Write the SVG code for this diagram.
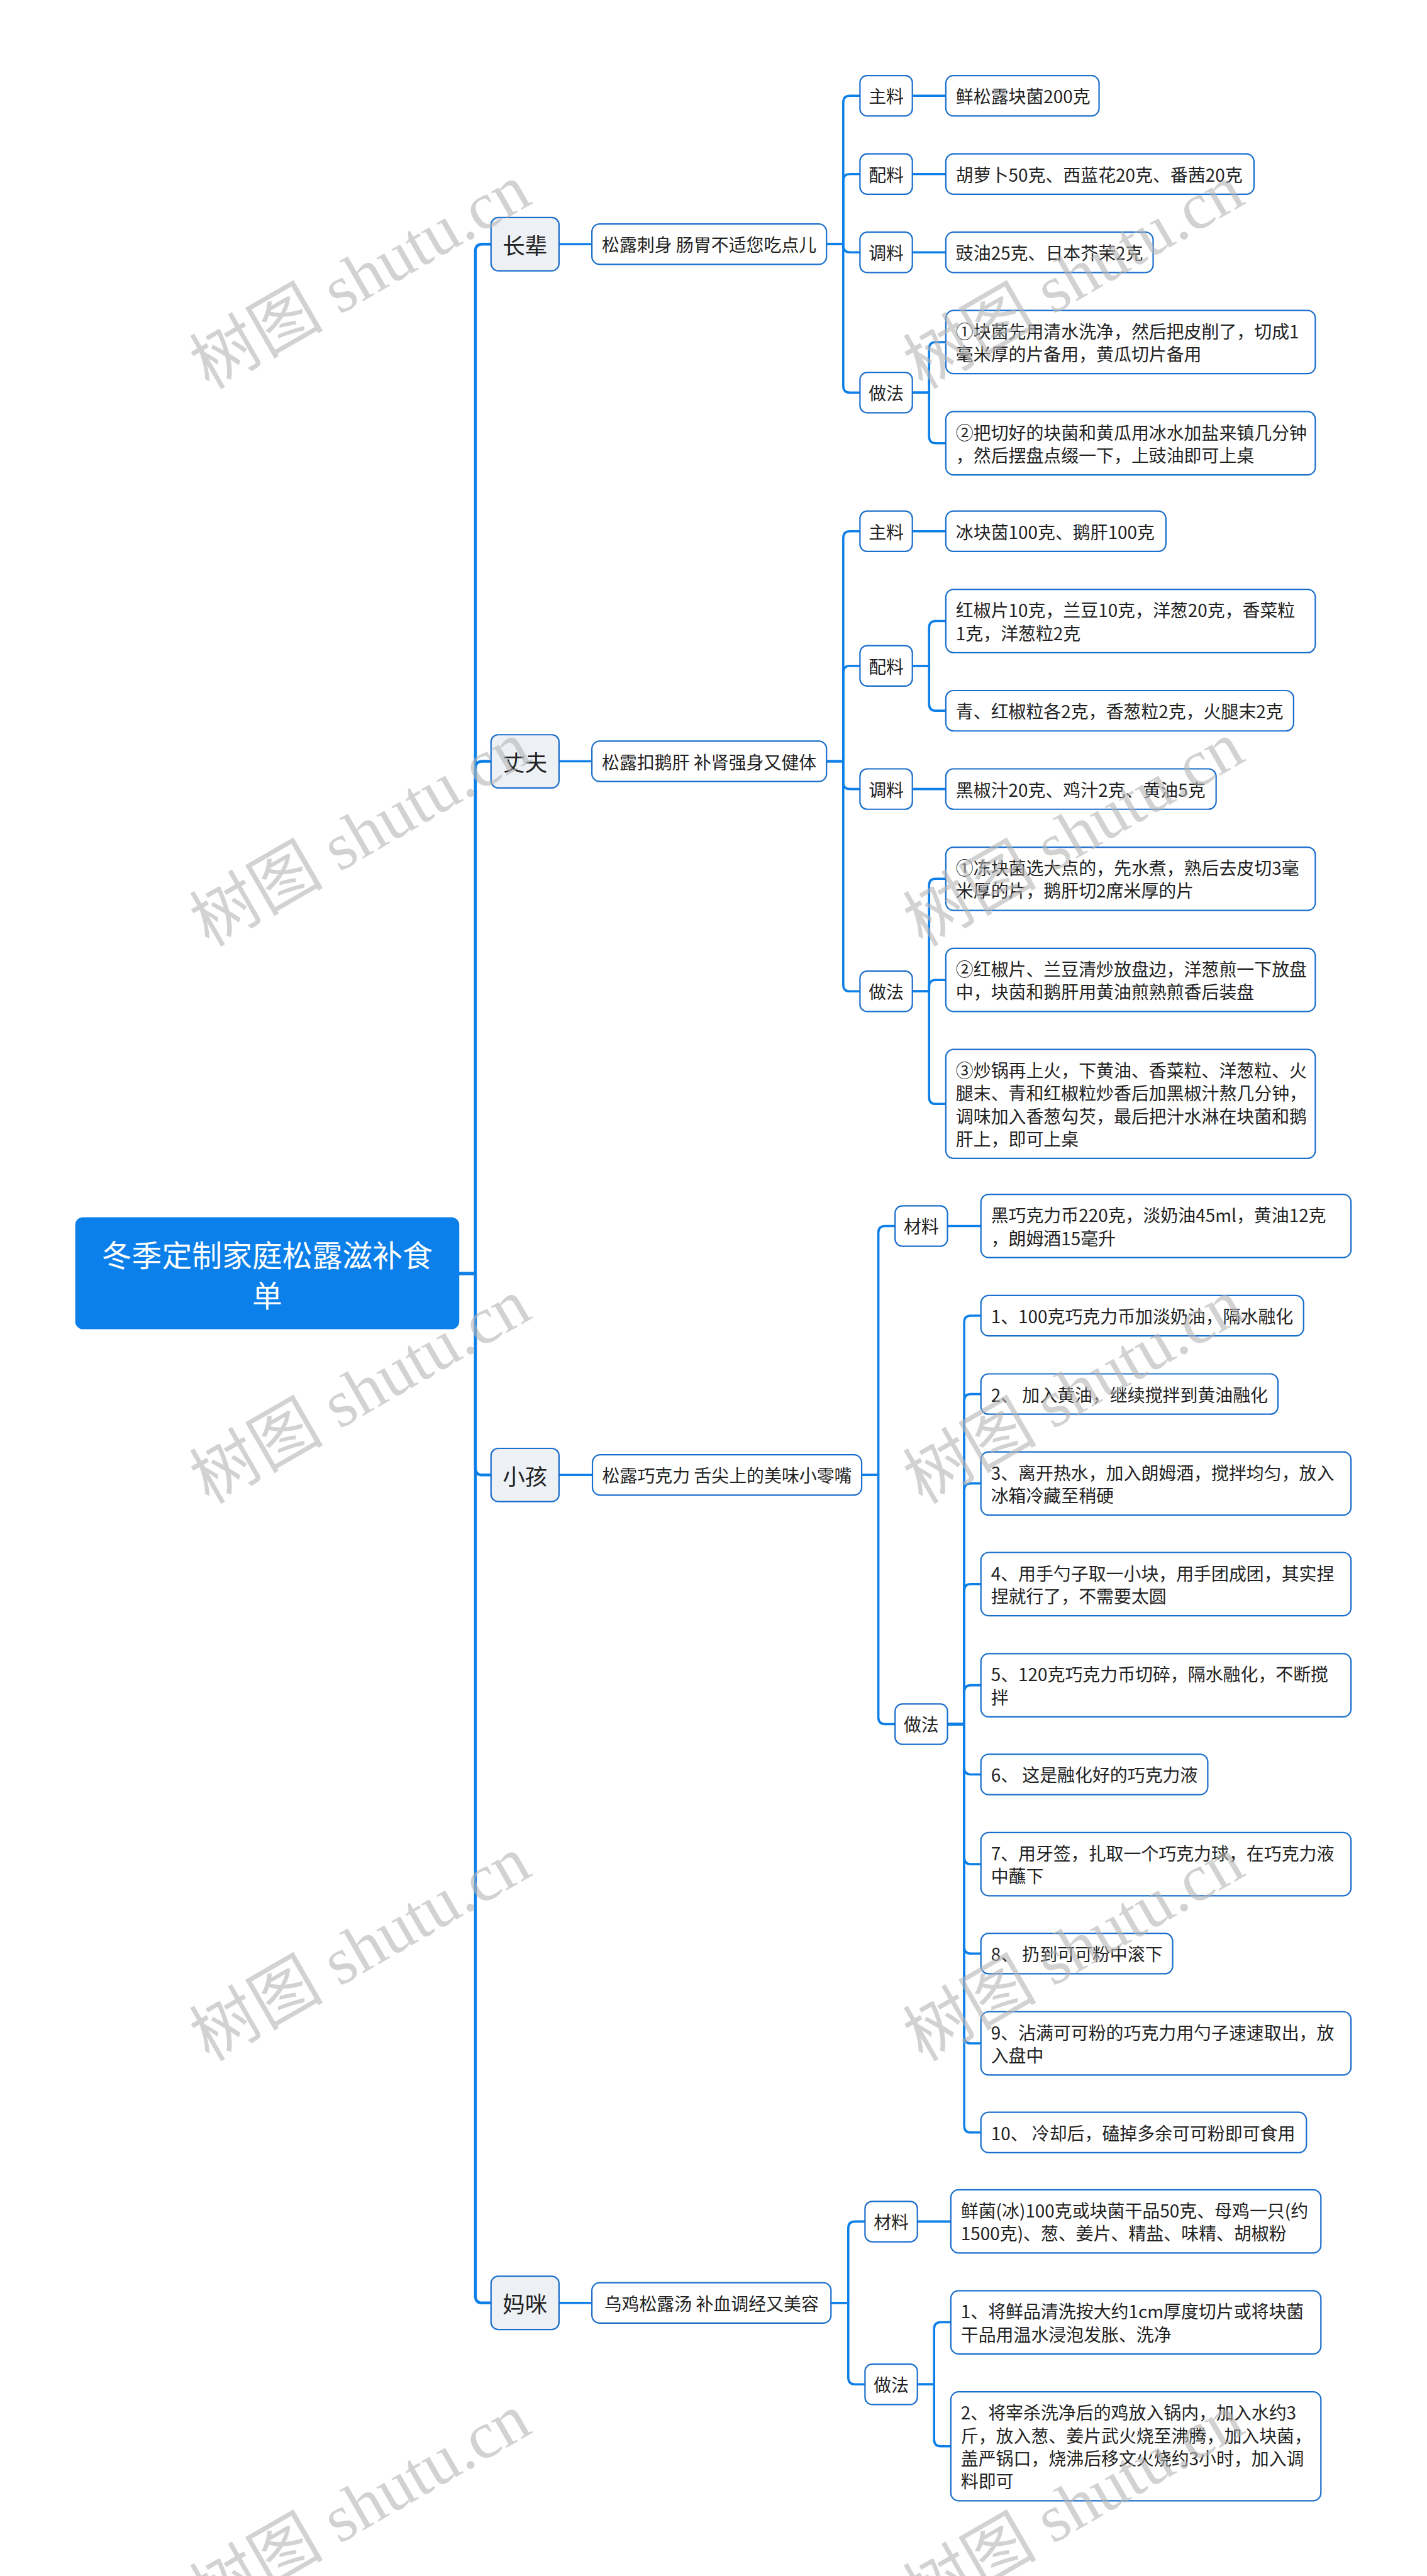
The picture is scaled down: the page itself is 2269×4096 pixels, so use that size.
<svg xmlns="http://www.w3.org/2000/svg" width="2269" height="4096" viewBox="0 0 2269 4096">
<style>
.c{fill:none;stroke:#0d7fe8;stroke-width:4;stroke-linecap:round;stroke-linejoin:round}
.tr{fill:none;stroke:#0d7fe8;stroke-width:5;stroke-linecap:round;stroke-linejoin:round}
.root rect{fill:#0b80ea}
.l1 rect{fill:#edf1f6;stroke:#1a6fcc;stroke-width:2.5}
.bx rect{fill:#ffffff;stroke:#1a6fcc;stroke-width:2.5}
text{font-family:"Noto Sans CJK SC","Microsoft YaHei",sans-serif;fill:#222222;dominant-baseline:central}
.f{font-size:31.5px}
.f40{font-size:40px}
.rt{font-size:54px;fill:#ffffff}
.m{text-anchor:middle}
.wm{font-family:"Liberation Serif","Noto Sans CJK SC",serif;font-size:120px;fill:#b4b4b4;fill-opacity:0.6;dominant-baseline:auto}
</style>
<rect width="2269" height="4096" fill="#ffffff"/>
<g transform="scale(0.8862)">
<g id="connectors">
<path class="tr" d="M824 2285H853V450.1Q853 438.1 865 438.1H881"/>
<path class="tr" d="M824 2285H853V1378Q853 1366 865 1366H881"/>
<path class="tr" d="M824 2285H853V2634.5Q853 2646.5 865 2646.5H881"/>
<path class="tr" d="M824 2285H853V4120Q853 4132 865 4132H881"/>
<path class="c" d="M1003 438.1H1062"/>
<path class="c" d="M1003 1366H1062"/>
<path class="c" d="M1003 2646.5H1063"/>
<path class="c" d="M1003 4132H1062"/>
<path class="c" d="M1483 438.1H1513V183.75Q1513 171.75 1525 171.75H1543"/>
<path class="c" d="M1483 438.1H1513V324.25Q1513 312.25 1525 312.25H1543"/>
<path class="c" d="M1483 438.1H1513V440.75Q1513 452.75 1525 452.75H1543"/>
<path class="c" d="M1483 438.1H1513V692.5Q1513 704.5 1525 704.5H1543"/>
<path class="c" d="M1637 171.75H1697"/>
<path class="c" d="M1637 312.25H1697"/>
<path class="c" d="M1637 452.75H1697"/>
<path class="c" d="M1637 704.5H1667V625.75Q1667 613.75 1679 613.75H1697"/>
<path class="c" d="M1637 704.5H1667V783.25Q1667 795.25 1679 795.25H1697"/>
<path class="c" d="M1483 1366H1513V965.25Q1513 953.25 1525 953.25H1543"/>
<path class="c" d="M1483 1366H1513V1206.75Q1513 1194.75 1525 1194.75H1543"/>
<path class="c" d="M1483 1366H1513V1403.75Q1513 1415.75 1525 1415.75H1543"/>
<path class="c" d="M1483 1366H1513V1766.75Q1513 1778.75 1525 1778.75H1543"/>
<path class="c" d="M1637 953.25H1697"/>
<path class="c" d="M1637 1194.75H1667V1126.25Q1667 1114.25 1679 1114.25H1697"/>
<path class="c" d="M1637 1194.75H1667V1263.25Q1667 1275.25 1679 1275.25H1697"/>
<path class="c" d="M1637 1415.75H1697"/>
<path class="c" d="M1637 1778.75H1667V1588.75Q1667 1576.75 1679 1576.75H1697"/>
<path class="c" d="M1637 1778.75H1667V1770.25Q1667 1758.25 1679 1758.25H1697"/>
<path class="c" d="M1637 1778.75H1667V1968.75Q1667 1980.75 1679 1980.75H1697"/>
<path class="c" d="M1546 2646.5H1576V2211.75Q1576 2199.75 1588 2199.75H1606"/>
<path class="c" d="M1546 2646.5H1576V3081.5Q1576 3093.5 1588 3093.5H1606"/>
<path class="c" d="M1700 2199.75H1760"/>
<path class="c" d="M1700 3093.5H1730V2372.75Q1730 2360.75 1742 2360.75H1760"/>
<path class="c" d="M1700 3093.5H1730V2513.25Q1730 2501.25 1742 2501.25H1760"/>
<path class="c" d="M1700 3093.5H1730V2673.75Q1730 2661.75 1742 2661.75H1760"/>
<path class="c" d="M1700 3093.5H1730V2854.25Q1730 2842.25 1742 2842.25H1760"/>
<path class="c" d="M1700 3093.5H1730V3035.75Q1730 3023.75 1742 3023.75H1760"/>
<path class="c" d="M1700 3093.5H1730V3171.75Q1730 3183.75 1742 3183.75H1760"/>
<path class="c" d="M1700 3093.5H1730V3332.75Q1730 3344.75 1742 3344.75H1760"/>
<path class="c" d="M1700 3093.5H1730V3493.25Q1730 3505.25 1742 3505.25H1760"/>
<path class="c" d="M1700 3093.5H1730V3654.25Q1730 3666.25 1742 3666.25H1760"/>
<path class="c" d="M1700 3093.5H1730V3814.25Q1730 3826.25 1742 3826.25H1760"/>
<path class="c" d="M1491 4132H1522V3998Q1522 3986 1534 3986H1552"/>
<path class="c" d="M1491 4132H1522V4266Q1522 4278 1534 4278H1552"/>
<path class="c" d="M1646 3986H1706"/>
<path class="c" d="M1646 4278H1676V4178.75Q1676 4166.75 1688 4166.75H1706"/>
<path class="c" d="M1646 4278H1676V4377.25Q1676 4389.25 1688 4389.25H1706"/>
</g>

<g id="root" class="root">
<rect x="135" y="2184" width="689" height="201" rx="14"/>
<text class="rt m" x="479.5" y="2249">冬季定制家庭松露滋补食</text>
<text class="rt m" x="479.5" y="2321">单</text>
</g>

<g id="n-zhangbei" class="l1"><rect x="881" y="390.4" width="122" height="95.5" rx="13"/><text class="f40 m" x="942" y="438.1">长辈</text></g>
<g id="n-zhangfu" class="l1"><rect x="881" y="1318.25" width="122" height="95.5" rx="13"/><text class="f40 m" x="942" y="1366">丈夫</text></g>
<g id="n-xiaohai" class="l1"><rect x="881" y="2598.75" width="122" height="95.5" rx="13"/><text class="f40 m" x="942" y="2646.5">小孩</text></g>
<g id="n-mami" class="l1"><rect x="881" y="4084.25" width="122" height="95.5" rx="13"/><text class="f40 m" x="942" y="4132">妈咪</text></g>

<g id="n-zb-label" class="bx"><rect x="1062" y="401.85" width="421" height="72.5" rx="14"/><text class="f m" x="1272.5" y="438.1">松露刺身 肠胃不适您吃点儿</text></g>
<g id="n-zf-label" class="bx"><rect x="1062" y="1329.75" width="421" height="72.5" rx="14"/><text class="f m" x="1272.5" y="1366">松露扣鹅肝 补肾强身又健体</text></g>
<g id="n-xh-label" class="bx"><rect x="1063" y="2610.25" width="483" height="72.5" rx="14"/><text class="f m" x="1304.5" y="2646.5">松露巧克力 舌尖上的美味小零嘴</text></g>
<g id="n-mm-label" class="bx"><rect x="1062" y="4095.75" width="429" height="72.5" rx="14"/><text class="f m" x="1276.5" y="4132">乌鸡松露汤 补血调经又美容</text></g>

<g id="n-zb-zhuliao" class="bx"><rect x="1543" y="135.5" width="94" height="72.5" rx="13"/><text class="f m" x="1590" y="171.75">主料</text></g>
<g id="n-zb-peiliao" class="bx"><rect x="1543" y="276" width="94" height="72.5" rx="13"/><text class="f m" x="1590" y="312.25">配料</text></g>
<g id="n-zb-tiaoliao" class="bx"><rect x="1543" y="416.5" width="94" height="72.5" rx="13"/><text class="f m" x="1590" y="452.75">调料</text></g>
<g id="n-zb-zuofa" class="bx"><rect x="1543" y="668.25" width="94" height="72.5" rx="13"/><text class="f m" x="1590" y="704.5">做法</text></g>

<g id="n-zb-l1" class="bx"><rect x="1697" y="135.5" width="275" height="72.5" rx="14"/><text class="f" x="1715" y="171.75">鲜松露块菌200克</text></g>
<g id="n-zb-l2" class="bx"><rect x="1697" y="276" width="553" height="72.5" rx="14"/><text class="f" x="1715" y="312.25">胡萝卜50克、西蓝花20克、番茜20克</text></g>
<g id="n-zb-l3" class="bx"><rect x="1697" y="416.5" width="372" height="72.5" rx="14"/><text class="f" x="1715" y="452.75">豉油25克、日本芥茉2克</text></g>
<g id="n-zb-l4" class="bx"><rect x="1697" y="557" width="663" height="113.5" rx="14"/><text class="f" x="1715" y="593.25">①块菌先用清水洗净，然后把皮削了，切成1</text><text class="f" x="1715" y="634.25">毫米厚的片备用，黄瓜切片备用</text></g>
<g id="n-zb-l5" class="bx"><rect x="1697" y="738.5" width="663" height="113.5" rx="14"/><text class="f" x="1715" y="774.75">②把切好的块菌和黄瓜用冰水加盐来镇几分钟</text><text class="f" x="1715" y="815.75">，然后摆盘点缀一下，上豉油即可上桌</text></g>

<g id="n-zf-zhuliao" class="bx"><rect x="1543" y="917" width="94" height="72.5" rx="13"/><text class="f m" x="1590" y="953.25">主料</text></g>
<g id="n-zf-peiliao" class="bx"><rect x="1543" y="1158.5" width="94" height="72.5" rx="13"/><text class="f m" x="1590" y="1194.75">配料</text></g>
<g id="n-zf-tiaoliao" class="bx"><rect x="1543" y="1379.5" width="94" height="72.5" rx="13"/><text class="f m" x="1590" y="1415.75">调料</text></g>
<g id="n-zf-zuofa" class="bx"><rect x="1543" y="1742.5" width="94" height="72.5" rx="13"/><text class="f m" x="1590" y="1778.75">做法</text></g>

<g id="n-zf-l1" class="bx"><rect x="1697" y="917" width="395" height="72.5" rx="14"/><text class="f" x="1715" y="953.25">冰块茵100克、鹅肝100克</text></g>
<g id="n-zf-l2" class="bx"><rect x="1697" y="1057.5" width="663" height="113.5" rx="14"/><text class="f" x="1715" y="1093.75">红椒片10克，兰豆10克，洋葱20克，香菜粒</text><text class="f" x="1715" y="1134.75">1克，洋葱粒2克</text></g>
<g id="n-zf-l3" class="bx"><rect x="1697" y="1239" width="624" height="72.5" rx="14"/><text class="f" x="1715" y="1275.25">青、红椒粒各2克，香葱粒2克，火腿末2克</text></g>
<g id="n-zf-l4" class="bx"><rect x="1697" y="1379.5" width="485" height="72.5" rx="14"/><text class="f" x="1715" y="1415.75">黑椒汁20克、鸡汁2克、黄油5克</text></g>
<g id="n-zf-l5" class="bx"><rect x="1697" y="1520" width="663" height="113.5" rx="14"/><text class="f" x="1715" y="1556.25">①冻块菌选大点的，先水煮，熟后去皮切3毫</text><text class="f" x="1715" y="1597.25">米厚的片，鹅肝切2席米厚的片</text></g>
<g id="n-zf-l6" class="bx"><rect x="1697" y="1701.5" width="663" height="113.5" rx="14"/><text class="f" x="1715" y="1737.75">②红椒片、兰豆清炒放盘边，洋葱煎一下放盘</text><text class="f" x="1715" y="1778.75">中，块茵和鹅肝用黄油煎熟煎香后装盘</text></g>
<g id="n-zf-l7" class="bx"><rect x="1697" y="1883" width="663" height="195.5" rx="14"/><text class="f" x="1715" y="1919.25">③炒锅再上火，下黄油、香菜粒、洋葱粒、火</text><text class="f" x="1715" y="1960.25">腿末、青和红椒粒炒香后加黑椒汁熬几分钟，</text><text class="f" x="1715" y="2001.25">调味加入香葱勾芡，最后把汁水淋在块菌和鹅</text><text class="f" x="1715" y="2042.25">肝上，即可上桌</text></g>

<g id="n-xh-cailiao" class="bx"><rect x="1606" y="2163.5" width="94" height="72.5" rx="13"/><text class="f m" x="1653" y="2199.75">材料</text></g>
<g id="n-xh-zuofa" class="bx"><rect x="1606" y="3057.25" width="94" height="72.5" rx="13"/><text class="f m" x="1653" y="3093.5">做法</text></g>

<g id="n-xh-c1" class="bx"><rect x="1760" y="2143" width="664" height="113.5" rx="14"/><text class="f" x="1778" y="2179.25">黑巧克力币220克，淡奶油45ml，黄油12克</text><text class="f" x="1778" y="2220.25">，朗姆酒15毫升</text></g>
<g id="n-xh-s1" class="bx"><rect x="1760" y="2324.5" width="579" height="72.5" rx="14"/><text class="f" x="1778" y="2360.75">1、100克巧克力币加淡奶油，隔水融化</text></g>
<g id="n-xh-s2" class="bx"><rect x="1760" y="2465" width="533" height="72.5" rx="14"/><text class="f" x="1778" y="2501.25">2、 加入黄油，继续搅拌到黄油融化</text></g>
<g id="n-xh-s3" class="bx"><rect x="1760" y="2605" width="664" height="113.5" rx="14"/><text class="f" x="1778" y="2641.25">3、离开热水，加入朗姆酒，搅拌均匀，放入</text><text class="f" x="1778" y="2682.25">冰箱冷藏至稍硬</text></g>
<g id="n-xh-s4" class="bx"><rect x="1760" y="2785.5" width="664" height="113.5" rx="14"/><text class="f" x="1778" y="2821.75">4、用手勺子取一小块，用手团成团，其实捏</text><text class="f" x="1778" y="2862.75">捏就行了，不需要太圆</text></g>
<g id="n-xh-s5" class="bx"><rect x="1760" y="2967" width="664" height="113.5" rx="14"/><text class="f" x="1778" y="3003.25">5、120克巧克力币切碎，隔水融化，不断搅</text><text class="f" x="1778" y="3044.25">拌</text></g>
<g id="n-xh-s6" class="bx"><rect x="1760" y="3147.5" width="407" height="72.5" rx="14"/><text class="f" x="1778" y="3183.75">6、 这是融化好的巧克力液</text></g>
<g id="n-xh-s7" class="bx"><rect x="1760" y="3288" width="664" height="113.5" rx="14"/><text class="f" x="1778" y="3324.25">7、用牙签，扎取一个巧克力球，在巧克力液</text><text class="f" x="1778" y="3365.25">中蘸下</text></g>
<g id="n-xh-s8" class="bx"><rect x="1760" y="3469" width="344" height="72.5" rx="14"/><text class="f" x="1778" y="3505.25">8、 扔到可可粉中滚下</text></g>
<g id="n-xh-s9" class="bx"><rect x="1760" y="3609.5" width="664" height="113.5" rx="14"/><text class="f" x="1778" y="3645.75">9、沾满可可粉的巧克力用勺子速速取出，放</text><text class="f" x="1778" y="3686.75">入盘中</text></g>
<g id="n-xh-s10" class="bx"><rect x="1760" y="3790" width="584" height="72.5" rx="14"/><text class="f" x="1778" y="3826.25">10、 冷却后，磕掉多余可可粉即可食用</text></g>

<g id="n-mm-cailiao" class="bx"><rect x="1552" y="3949.75" width="94" height="72.5" rx="13"/><text class="f m" x="1599" y="3986">材料</text></g>
<g id="n-mm-zuofa" class="bx"><rect x="1552" y="4241.75" width="94" height="72.5" rx="13"/><text class="f m" x="1599" y="4278">做法</text></g>
<g id="n-mm-l1" class="bx"><rect x="1706" y="3929" width="664" height="113.5" rx="14"/><text class="f" x="1724" y="3965.25">鲜菌(冰)100克或块菌干品50克、母鸡一只(约</text><text class="f" x="1724" y="4006.25">1500克)、葱、姜片、精盐、味精、胡椒粉</text></g>
<g id="n-mm-l2" class="bx"><rect x="1706" y="4110" width="664" height="113.5" rx="14"/><text class="f" x="1724" y="4146.25">1、将鲜品清洗按大约1cm厚度切片或将块菌</text><text class="f" x="1724" y="4187.25">干品用温水浸泡发胀、洗净</text></g>
<g id="n-mm-l3" class="bx"><rect x="1706" y="4291.5" width="664" height="195.5" rx="14"/><text class="f" x="1724" y="4327.75">2、将宰杀洗净后的鸡放入锅内，加入水约3</text><text class="f" x="1724" y="4368.75">斤，放入葱、姜片武火烧至沸腾，加入块菌，</text><text class="f" x="1724" y="4409.75">盖严锅口，烧沸后移文火烧约3小时，加入调</text><text class="f" x="1724" y="4450.75">料即可</text></g>

<g id="watermarks">
<text class="wm" transform="translate(375,700) rotate(-30)">树图 shutu.cn</text>
<text class="wm" transform="translate(1655,700) rotate(-30)">树图 shutu.cn</text>
<text class="wm" transform="translate(375,1700) rotate(-30)">树图 shutu.cn</text>
<text class="wm" transform="translate(1655,1700) rotate(-30)">树图 shutu.cn</text>
<text class="wm" transform="translate(375,2700) rotate(-30)">树图 shutu.cn</text>
<text class="wm" transform="translate(1655,2700) rotate(-30)">树图 shutu.cn</text>
<text class="wm" transform="translate(375,3700) rotate(-30)">树图 shutu.cn</text>
<text class="wm" transform="translate(1655,3700) rotate(-30)">树图 shutu.cn</text>
<text class="wm" transform="translate(375,4700) rotate(-30)">树图 shutu.cn</text>
<text class="wm" transform="translate(1655,4700) rotate(-30)">树图 shutu.cn</text>
</g>
</g>
</svg>
